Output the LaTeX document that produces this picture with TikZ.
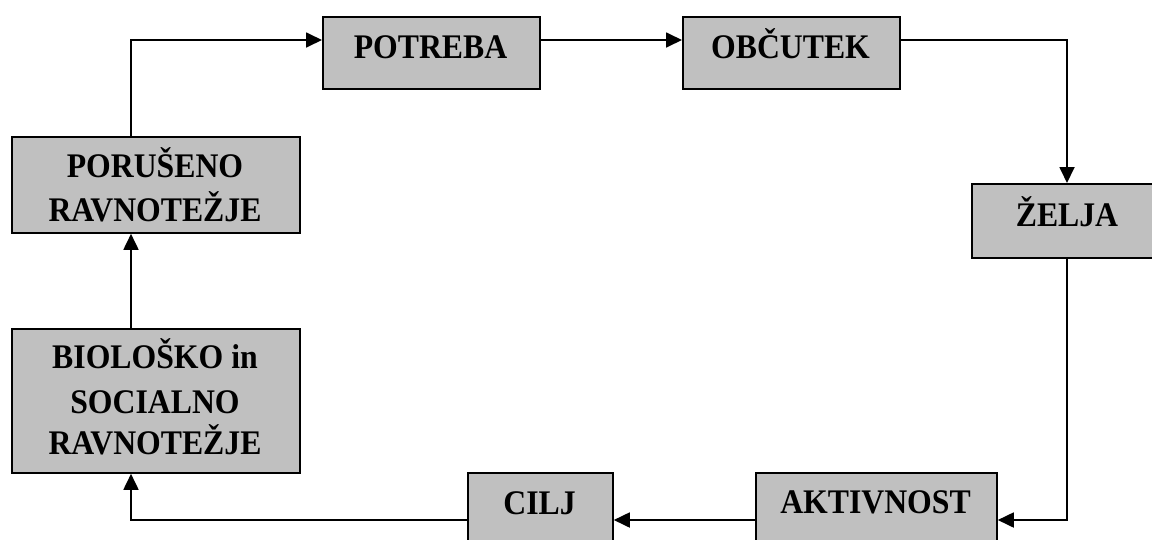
\documentclass[tikz,border=0pt]{standalone}
\usepackage{fontspec}
\setmainfont{Liberation Serif}[FakeStretch=0.92]
\usetikzlibrary{arrows.meta}
\begin{document}
\begin{tikzpicture}[x=1pt,y=-1pt,
  box/.style={draw=black,line width=1.8pt,fill={rgb,255:red,192;green,192;blue,192},inner sep=0pt,anchor=north west},
  txt/.style={font=\fontsize{34.5}{42}\selectfont\bfseries,inner sep=0pt,anchor=base},
  arr/.style={line width=1.8pt,-{Triangle[length=16pt,width=15pt]}},
  ln/.style={line width=1.8pt}]
\useasboundingbox (0,0) rectangle (1152,539);
% boxes
\node[box,minimum width=217pt,minimum height=72pt] (potreba) at (322,16) {};
\node[box,minimum width=217pt,minimum height=72pt] (obcutek) at (682,16) {};
\node[box,minimum width=192pt,minimum height=74pt] (zelja) at (971,183) {};
\node[box,minimum width=288pt,minimum height=96pt] (porus) at (11,136) {};
\node[box,minimum width=288pt,minimum height=144pt] (bio) at (11,328) {};
\node[box,minimum width=145pt,minimum height=80pt] (cilj) at (467,472) {};
\node[box,minimum width=241pt,minimum height=80pt] (aktiv) at (755,472) {};
% texts
\node[txt] (tpotreba) at (430.5,58) {POTREBA};
\node[txt] (tobcutek) at (790.5,58) {OBČUTEK};
\node[txt] (tzelja) at (1067,226) {ŽELJA};
\node[txt] (tporus1) at (155,177) {PORUŠENO};
\node[txt] (tporus2) at (155,221) {RAVNOTEŽJE};
\node[txt] (tbio1) at (155,368) {BIOLOŠKO in};
\node[txt] (tbio2) at (155,413) {SOCIALNO};
\node[txt] (tbio3) at (155,454) {RAVNOTEŽJE};
\node[txt] (tcilj) at (539.5,514) {CILJ};
\node[txt] (taktiv) at (875.5,513) {AKTIVNOST};
% connectors
\draw[arr] ([xshift=120pt]porus.north west) |- ([yshift=-24pt]potreba.north west);
\draw[arr] ([yshift=-24pt]potreba.north east) -- ([yshift=-24pt]obcutek.north west);
\draw[arr] ([yshift=-24pt]obcutek.north east) -| ([xshift=96pt]zelja.north west);
\draw[arr] ([xshift=96pt]zelja.south west) |- ([yshift=-48pt]aktiv.north east);
\draw[arr] ([yshift=-48pt]aktiv.north west) -- ([yshift=-48pt]cilj.north east);
\draw[arr] ([yshift=-48pt]cilj.north west) -| ([xshift=120pt]bio.south west);
\draw[arr] ([xshift=120pt]bio.north west) -- ([xshift=120pt]porus.south west);
\end{tikzpicture}
\end{document}
